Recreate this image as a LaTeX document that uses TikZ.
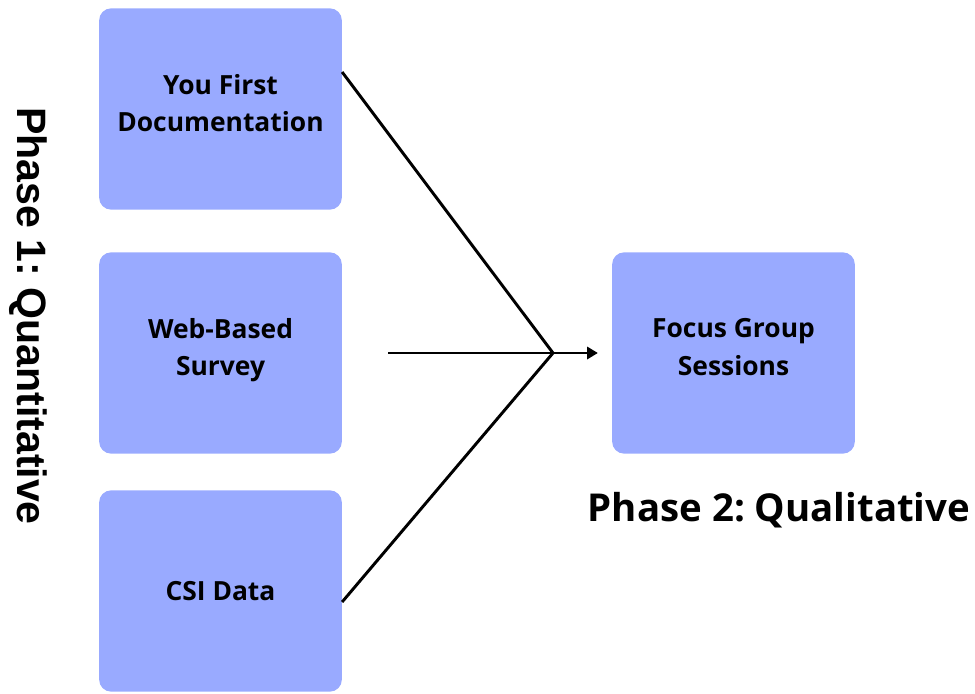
\documentclass[tikz,border=0pt]{standalone}
\usepackage{fontspec}
\setmainfont{Open Sans}
\newfontfamily\phasefont{Liberation Sans}
\usetikzlibrary{arrows.meta}
\definecolor{boxblue}{RGB}{153,170,255}
\frenchspacing
\tikzset{
    stage/.style={fill=boxblue, rounded corners=9pt, minimum width=182pt, minimum height=151pt,
        align=center, font=\fontsize{19.8}{28}\selectfont\bfseries, text=black},
    twoline/.style={text depth=9pt},
    link/.style={line width=2.2pt}
}
\begin{document}
\begin{tikzpicture}[x=0.75pt,y=-0.75pt]
            \useasboundingbox (0,0) rectangle (975,693);

            \node[stage, twoline] (docs) at (220.5,109) {You First\\Documentation};
            \node[stage, twoline] (survey) at (220.5,353) {Web-Based\\Survey};
            \node[stage] (csi) at (220.5,591) {CSI Data};
            \node[stage, twoline] (focus) at (733.5,353) {Focus Group\\Sessions};

            \node[rotate=-90, font=\phasefont\fontsize{30.8}{36}\selectfont\bfseries] (phaseone) at (28,316) {Phase 1: Quantitative};
            \node[font=\fontsize{28.8}{34}\selectfont\bfseries] (phasetwo) at (779,510) {Phase 2: Qualitative};

            \coordinate (join) at (553,353);
            \coordinate (surveyout) at (388,353);

            \draw[link] ([yshift=27.75pt]docs.east) -- (join);
            \draw[link] (surveyout) -- (join);
            \draw[link] ([yshift=-8.25pt]csi.east) -- (join);
            \draw[link, -{Triangle[length=8pt,width=9pt]}, shorten >=10.5pt] (join) -- (focus.west);
\end{tikzpicture}
\end{document}
